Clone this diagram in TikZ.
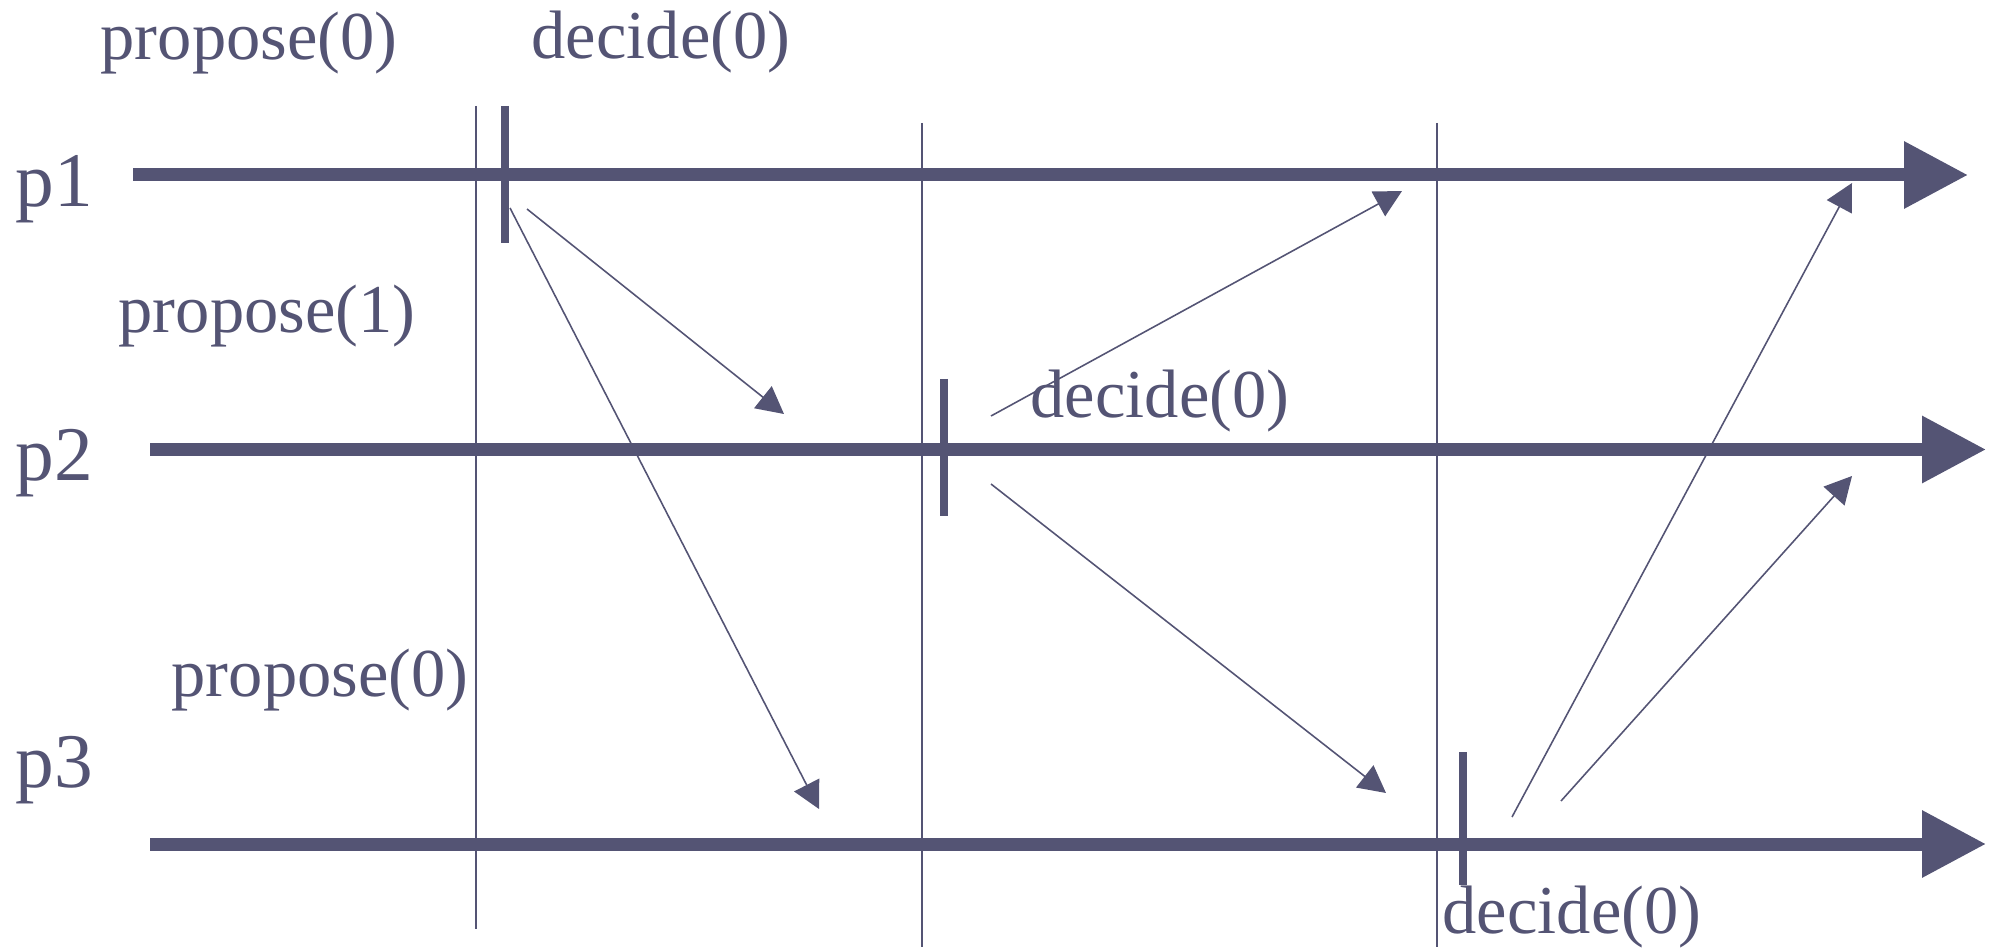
\documentclass[tikz,border=0pt]{standalone}
\usepackage{fontspec}
\setmainfont{Liberation Serif}
\usepackage{tikz}
\usetikzlibrary{arrows.meta,calc,positioning}
\definecolor{procgray}{HTML}{545474}
\tikzset{
  timeline/.style={procgray, line width=0.13cm, -{Triangle[length=0.64cm, width=0.64cm]}},
  roundline/.style={procgray, line width=0.45pt},
  decidemark/.style={procgray, line width=0.08cm},
  msg/.style={procgray, line width=0.45pt, -{Triangle[length=0.27cm, width=0.28cm]}},
  proclabel/.style={procgray, anchor=base west, inner sep=0pt, font=\fontsize{22}{24}\selectfont},
  eventlabel/.style={procgray, anchor=base west, inner sep=0pt, font=\fontsize{19.5}{22}\selectfont}
}

\begin{document}
\begin{tikzpicture}
  \useasboundingbox (0,0) rectangle (19.91,-9.50);
  % process names
  \node[proclabel] (p1) at (0.15,-2.07) {p1};
  \node[proclabel] (p2) at (0.15,-4.80) {p2};
  \node[proclabel] (p3) at (0.15,-7.87) {p3};
  % time lines
  \coordinate (p1start) at (1.33,-1.75);
  \coordinate (p1end) at (19.68,-1.75);
  \coordinate (p2start) at (1.50,-4.495);
  \coordinate (p2end) at (19.86,-4.495);
  \coordinate (p3start) at (1.50,-8.44);
  \coordinate (p3end) at (19.86,-8.44);
  \draw[timeline] (p1start) -- (p1end);
  \draw[timeline] (p2start) -- (p2end);
  \draw[timeline] (p3start) -- (p3end);
  % round boundaries
  \coordinate (r1top) at (4.76,-1.06);
  \coordinate (r1bot) at (4.76,-9.29);
  \coordinate (r2top) at (9.22,-1.23);
  \coordinate (r2bot) at (9.22,-9.47);
  \coordinate (r3top) at (14.37,-1.23);
  \coordinate (r3bot) at (14.37,-9.47);
  \draw[roundline] (r1top) -- (r1bot);
  \draw[roundline] (r2top) -- (r2bot);
  \draw[roundline] (r3top) -- (r3bot);
  % decisions
  \coordinate (d1top) at (5.05,-1.06);
  \coordinate (d1bot) at (5.05,-2.43);
  \coordinate (d2top) at (9.44,-3.79);
  \coordinate (d2bot) at (9.44,-5.16);
  \coordinate (d3top) at (14.63,-7.52);
  \coordinate (d3bot) at (14.63,-8.85);
  \draw[decidemark] (d1top) -- (d1bot);
  \draw[decidemark] (d2top) -- (d2bot);
  \draw[decidemark] (d3top) -- (d3bot);
  % messages
  \coordinate (m1a) at (5.27,-2.09);
  \coordinate (m1b) at (7.84,-4.14);
  \coordinate (m2a) at (5.10,-2.08);
  \coordinate (m2b) at (8.19,-8.09);
  \coordinate (m3a) at (9.91,-4.16);
  \coordinate (m3b) at (14.02,-1.91);
  \coordinate (m4a) at (9.91,-4.84);
  \coordinate (m4b) at (13.86,-7.93);
  \coordinate (m5a) at (15.12,-8.17);
  \coordinate (m5b) at (18.52,-1.83);
  \coordinate (m6a) at (15.61,-8.01);
  \coordinate (m6b) at (18.52,-4.76);
  \draw[msg] (m1a) -- (m1b);
  \draw[msg] (m2a) -- (m2b);
  \draw[msg] (m3a) -- (m3b);
  \draw[msg] (m4a) -- (m4b);
  \draw[msg] (m5a) -- (m5b);
  \draw[msg] (m6a) -- (m6b);
  % events
  \node[eventlabel] (prop1) at (1.00,-0.60) {propose(0)};
  \node[eventlabel] (dec1) at (5.31,-0.59) {decide(0)};
  \node[eventlabel] (prop2) at (1.18,-3.33) {propose(1)};
  \node[eventlabel] (dec2) at (10.30,-4.18) {decide(0)};
  \node[eventlabel] (prop3) at (1.71,-6.96) {propose(0)};
  \node[eventlabel] (dec3) at (14.42,-9.33) {decide(0)};
\end{tikzpicture}
\end{document}
